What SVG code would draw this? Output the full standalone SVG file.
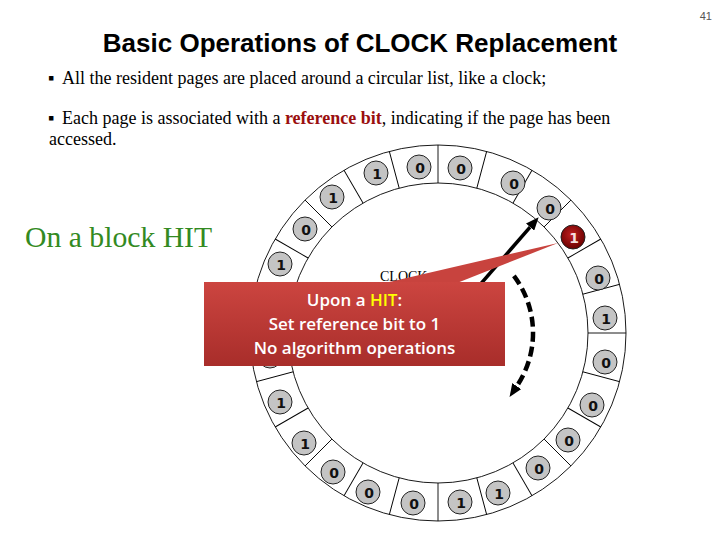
<svg xmlns="http://www.w3.org/2000/svg" width="720" height="540" viewBox="0 0 720 540">
<style>
.ring{fill:#fff;stroke:#000;stroke-width:0.9}
.div{stroke:#000;stroke-width:0.9}
.bit circle{fill:#c4c4c4;stroke:#222;stroke-width:1}
.bit text{font-family:"DejaVu Sans",sans-serif;font-weight:bold;font-size:14px;fill:#111;text-anchor:middle}
.body{font-family:"Liberation Serif",serif;font-size:18px;fill:#000}
.co{font-family:"Open Sans",sans-serif;font-weight:600;font-size:17px;fill:#fff;text-anchor:middle}
</style>
<defs>
<linearGradient id="cg" x1="0" y1="0" x2="0" y2="1">
<stop offset="0" stop-color="#cc4540"/>
<stop offset="1" stop-color="#a82d2a"/>
</linearGradient>
<radialGradient id="rg" cx="0.45" cy="0.4" r="0.6">
<stop offset="0" stop-color="#c02020"/>
<stop offset="1" stop-color="#6a0000"/>
</radialGradient>
<marker id="ah" viewBox="0 0 12 10" refX="0" refY="5" markerWidth="13" markerHeight="11" markerUnits="userSpaceOnUse" orient="auto">
<path d="M0,0 L12,5 L0,10 z" fill="#000"/>
</marker>
<line id="dv" class="div" x1="438" y1="183" x2="438" y2="145"/>
</defs>

<text x="712" y="20" font-family="Liberation Sans,sans-serif" font-size="11" fill="#555" text-anchor="end">41</text>
<text x="360" y="52" font-family="Liberation Sans,sans-serif" font-weight="bold" font-size="26" text-anchor="middle" fill="#000">Basic Operations of CLOCK Replacement</text>

<text class="body" y="84"><tspan x="48">▪</tspan><tspan x="62">All the resident pages are placed around a circular list, like a clock;</tspan></text>
<text class="body" y="124"><tspan x="48">▪</tspan><tspan x="62">Each page is associated with a </tspan><tspan font-weight="bold" fill="#9a0f0f">reference bit</tspan><tspan>, indicating if the page has been</tspan></text>
<text class="body" x="49" y="145">accessed.</text>

<text x="25" y="247" font-family="Liberation Serif,serif" font-size="29.7" fill="#338a22">On a block HIT</text>

<g id="ring">
<circle class="ring" cx="438" cy="333" r="188"/>
<circle class="ring" cx="438" cy="333" r="150"/>
<use href="#dv"/>
<use href="#dv" transform="rotate(15 438 333)"/>
<use href="#dv" transform="rotate(30 438 333)"/>
<use href="#dv" transform="rotate(45 438 333)"/>
<use href="#dv" transform="rotate(60 438 333)"/>
<use href="#dv" transform="rotate(75 438 333)"/>
<use href="#dv" transform="rotate(90 438 333)"/>
<use href="#dv" transform="rotate(105 438 333)"/>
<use href="#dv" transform="rotate(120 438 333)"/>
<use href="#dv" transform="rotate(135 438 333)"/>
<use href="#dv" transform="rotate(150 438 333)"/>
<use href="#dv" transform="rotate(165 438 333)"/>
<use href="#dv" transform="rotate(180 438 333)"/>
<use href="#dv" transform="rotate(195 438 333)"/>
<use href="#dv" transform="rotate(210 438 333)"/>
<use href="#dv" transform="rotate(225 438 333)"/>
<use href="#dv" transform="rotate(240 438 333)"/>
<use href="#dv" transform="rotate(255 438 333)"/>
<use href="#dv" transform="rotate(270 438 333)"/>
<use href="#dv" transform="rotate(285 438 333)"/>
<use href="#dv" transform="rotate(300 438 333)"/>
<use href="#dv" transform="rotate(315 438 333)"/>
<use href="#dv" transform="rotate(330 438 333)"/>
<use href="#dv" transform="rotate(345 438 333)"/>
</g>

<g id="p1" class="bit"><circle cx="460" cy="168" r="12"/><text x="461" y="173.5">0</text></g>
<g id="p2" class="bit"><circle cx="513" cy="183" r="12"/><text x="514" y="188.5">0</text></g>
<g id="p3" class="bit"><circle cx="549" cy="208" r="12"/><text x="550" y="213.5">0</text></g>
<g id="p4" class="bit"><circle cx="573" cy="237" r="12" style="fill:url(#rg)"/><text x="574" y="242.5" style="fill:#f4dede">1</text></g>
<g id="p5" class="bit"><circle cx="598" cy="278" r="12"/><text x="599" y="283.5">0</text></g>
<g id="p6" class="bit"><circle cx="605" cy="318" r="12"/><text x="606" y="323.5">1</text></g>
<g id="p7" class="bit"><circle cx="605" cy="362" r="12"/><text x="606" y="367.5">0</text></g>
<g id="p8" class="bit"><circle cx="592" cy="405" r="12"/><text x="593" y="410.5">0</text></g>
<g id="p9" class="bit"><circle cx="568" cy="440" r="12"/><text x="569" y="445.5">0</text></g>
<g id="p10" class="bit"><circle cx="538" cy="468" r="12"/><text x="539" y="473.5">0</text></g>
<g id="p11" class="bit"><circle cx="498" cy="493" r="12"/><text x="499" y="498.5">1</text></g>
<g id="p12" class="bit"><circle cx="460" cy="502" r="12"/><text x="461" y="507.5">1</text></g>
<g id="p13" class="bit"><circle cx="413" cy="503" r="12"/><text x="414" y="508.5">0</text></g>
<g id="p14" class="bit"><circle cx="368" cy="492" r="12"/><text x="369" y="497.5">0</text></g>
<g id="p15" class="bit"><circle cx="333" cy="472" r="12"/><text x="334" y="477.5">0</text></g>
<g id="p16" class="bit"><circle cx="304" cy="443" r="12"/><text x="305" y="448.5">1</text></g>
<g id="p17" class="bit"><circle cx="280" cy="402" r="12"/><text x="281" y="407.5">1</text></g>
<g id="p18" class="bit"><circle cx="270" cy="356" r="12"/></g>
<g id="p19" class="bit"><circle cx="270" cy="314" r="12"/></g>
<g id="p20" class="bit"><circle cx="280" cy="264" r="12"/><text x="281" y="269.5">1</text></g>
<g id="p21" class="bit"><circle cx="305" cy="229" r="12"/><text x="306" y="234.5">0</text></g>
<g id="p22" class="bit"><circle cx="332" cy="197" r="12"/><text x="333" y="202.5">1</text></g>
<g id="p23" class="bit"><circle cx="376" cy="173" r="12"/><text x="377" y="178.5">1</text></g>
<g id="p24" class="bit"><circle cx="419" cy="167" r="12"/><text x="420" y="172.5">0</text></g>

<g id="connectors">
<line x1="438" y1="333" x2="530.1" y2="227.1" stroke="#000" stroke-width="3.5" marker-end="url(#ah)"/>
<path d="M513.9,275.8 A95,95 0 0 1 516.8,386.1" fill="none" stroke="#000" stroke-width="4.5" stroke-dasharray="10 5" marker-end="url(#ah)"/>
</g>

<text x="380" y="281" font-family="Liberation Serif,serif" font-size="14" fill="#000">CLOCK</text>

<g id="callout">
<polygon points="385,283 558,243 457,283" fill="#c8433e"/>
<rect x="204" y="282" width="301" height="84" fill="url(#cg)"/>
<text class="co" x="354.5" y="306">Upon a <tspan fill="#ffff00">HIT</tspan>:</text>
<text class="co" x="354.5" y="330">Set reference bit to 1</text>
<text class="co" x="354.5" y="354">No algorithm operations</text>
</g>
</svg>
